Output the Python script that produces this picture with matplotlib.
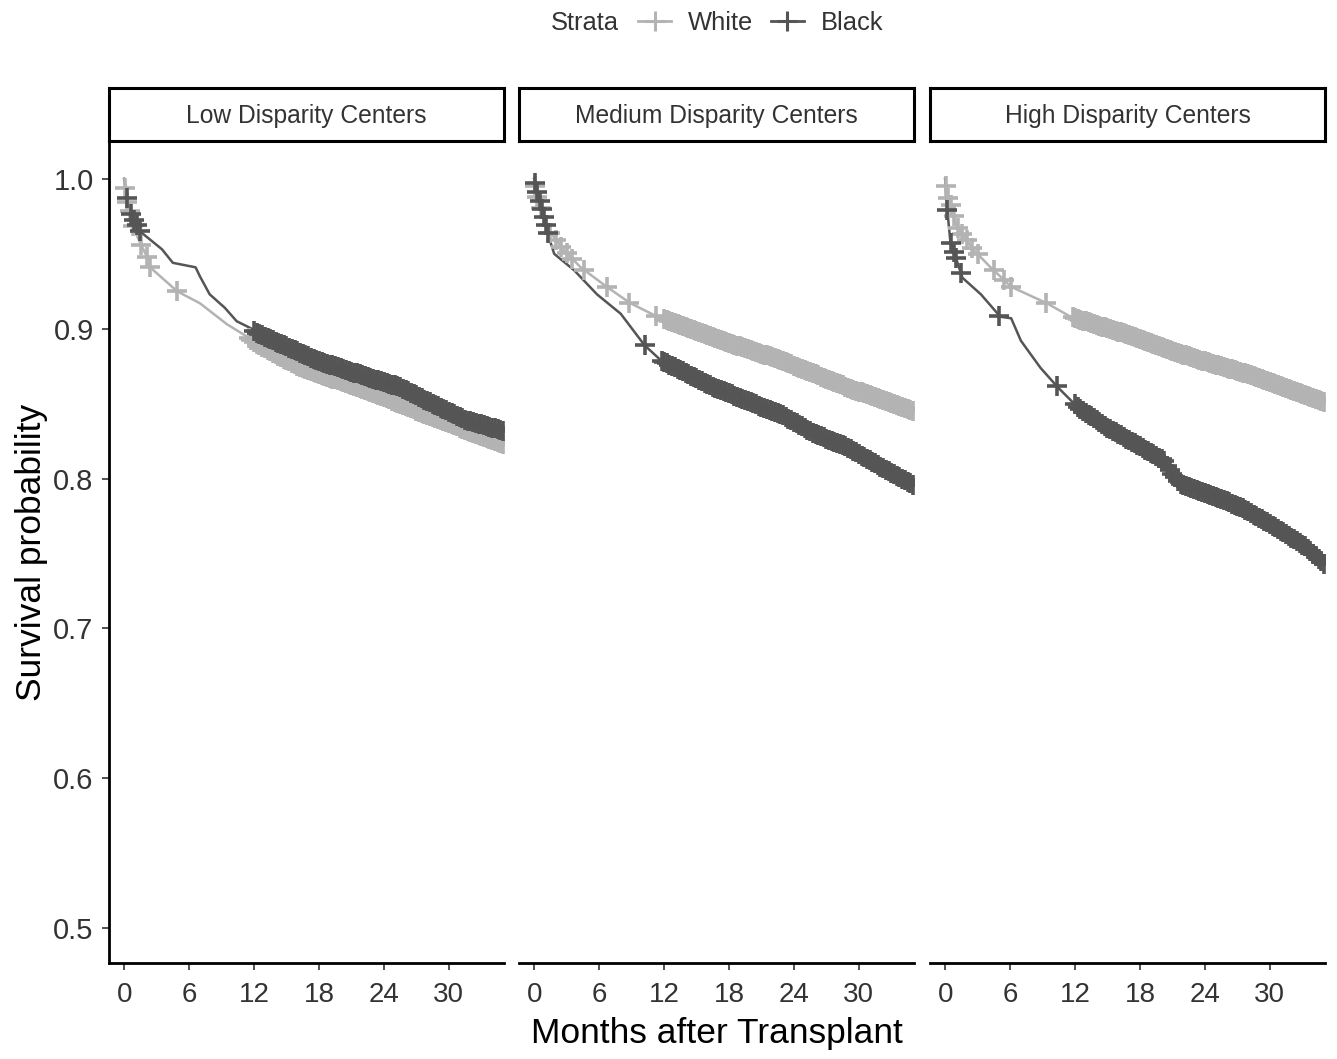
import numpy as np
import matplotlib
matplotlib.use("Agg")
import matplotlib.pyplot as plt
from matplotlib.lines import Line2D

plt.rcParams['font.family'] = ['Liberation Sans', 'DejaVu Sans']

panel_titles = ["Low Disparity Centers", "Medium Disparity Centers", "High Disparity Centers"]
strata = ["White", "Black"]
strata_colors = {"White": "#b3b3b3", "Black": "#555555"}

# survival curves (months, probability)
low_white_t = [0, 0.2, 0.85, 2.1, 2.4, 4.9, 7.0, 9.5, 11.3, 12.0, 16.3, 22.4, 28.5, 35.0]
low_white_s = [1.0, 0.988, 0.967, 0.948, 0.941, 0.925, 0.917, 0.903, 0.895, 0.891, 0.874, 0.859, 0.841, 0.823]
low_black_t = [0, 0.55, 1.63, 3.5, 4.5, 6.6, 7.0, 7.9, 9.3, 10.4, 11.8, 12.3, 17.8, 22.4, 25.5, 28.5, 31.6, 35.0]
low_black_s = [1.0, 0.977, 0.964, 0.953, 0.944, 0.941, 0.935, 0.923, 0.914, 0.905, 0.900, 0.897, 0.879, 0.868, 0.861, 0.850, 0.839, 0.832]

med_white_t = [0, 0.2, 1.2, 2.8, 4.3, 6.7, 8.9, 11.4, 16.6, 22.8, 28.9, 35.0]
med_white_s = [1.0, 0.99, 0.967, 0.952, 0.941, 0.928, 0.917, 0.908, 0.894, 0.879, 0.861, 0.845]
med_black_t = [0, 0.5, 1.0, 1.5, 1.85, 3.7, 5.8, 8.0, 10.2, 11.7, 16.6, 21.0, 22.8, 25.9, 28.9, 32.0, 35.0]
med_black_s = [1.0, 0.985, 0.972, 0.958, 0.950, 0.939, 0.923, 0.910, 0.889, 0.879, 0.861, 0.848, 0.843, 0.830, 0.821, 0.808, 0.796]

high_white_t = [0, 0.2, 1.1, 2.7, 4.2, 6.1, 9.4, 11.6, 16.5, 22.7, 28.8, 35.0]
high_white_s = [1.0, 0.99, 0.968, 0.952, 0.941, 0.928, 0.917, 0.908, 0.897, 0.881, 0.868, 0.851]
high_black_t = [0, 0.2, 0.5, 1.1, 1.6, 3.3, 5.1, 6.1, 7.0, 8.8, 10.4, 12.2, 15.0, 18.1, 20.2, 21.0, 21.8, 24.2, 27.3, 30.4, 33.4, 35.0]
high_black_s = [1.0, 0.979, 0.957, 0.945, 0.934, 0.923, 0.908, 0.907, 0.892, 0.874, 0.861, 0.848, 0.834, 0.821, 0.812, 0.803, 0.796, 0.790, 0.781, 0.768, 0.754, 0.743]

# censoring times (months)
low_white_cens = [0.1, 0.3, 0.5, 0.8, 1.6, 2.1, 2.4, 4.9, 11.5, 11.75]
low_black_cens = [0.3, 0.6, 0.9, 1.2, 1.5]
med_white_cens = [0.1, 0.3, 0.6, 1.5, 2.0, 2.5, 3.0, 3.5, 4.6, 6.7, 8.8, 11.3]
med_black_cens = [0.1, 0.3, 0.5, 0.7, 0.9, 1.1, 1.3, 10.2, 11.8]
high_white_cens = [0.1, 0.3, 0.5, 0.8, 1.2, 1.6, 2.0, 2.5, 3.0, 4.5, 5.4, 6.1, 9.3, 11.8]
high_black_cens = [0.2, 0.5, 0.8, 1.0, 1.45, 5.0, 10.3]
dense_cens = [12.0, 12.25, 12.5, 12.75, 13.0, 13.25, 13.5, 13.75, 14.0, 14.25, 14.5, 14.75,
              15.0, 15.25, 15.5, 15.75, 16.0, 16.25, 16.5, 16.75, 17.0, 17.25, 17.5, 17.75,
              18.0, 18.25, 18.5, 18.75, 19.0, 19.25, 19.5, 19.75, 20.0, 20.25, 20.5, 20.75,
              21.0, 21.25, 21.5, 21.75, 22.0, 22.25, 22.5, 22.75, 23.0, 23.25, 23.5, 23.75,
              24.0, 24.25, 24.5, 24.75, 25.0, 25.25, 25.5, 25.75, 26.0, 26.25, 26.5, 26.75,
              27.0, 27.25, 27.5, 27.75, 28.0, 28.25, 28.5, 28.75, 29.0, 29.25, 29.5, 29.75,
              30.0, 30.25, 30.5, 30.75, 31.0, 31.25, 31.5, 31.75, 32.0, 32.25, 32.5, 32.75,
              33.0, 33.25, 33.5, 33.75, 34.0, 34.25, 34.5, 34.75, 35.0]

curves = [
    {"White": (low_white_t, low_white_s, low_white_cens), "Black": (low_black_t, low_black_s, low_black_cens)},
    {"White": (med_white_t, med_white_s, med_white_cens), "Black": (med_black_t, med_black_s, med_black_cens)},
    {"White": (high_white_t, high_white_s, high_white_cens), "Black": (high_black_t, high_black_s, high_black_cens)},
]

x_ticks = [0, 6, 12, 18, 24, 30]
y_ticks = [0.5, 0.6, 0.7, 0.8, 0.9, 1.0]

W, H = 1337, 1059
fig = plt.figure(figsize=(W / 100, H / 100), dpi=100)

lefts = [109, 519, 930]
pw = 395
ax_bottom = 963
ax_top = 141
strip_top = 88

for i, left in enumerate(lefts):
    ax = fig.add_axes([left / W, 1 - ax_bottom / H, pw / W, (ax_bottom - ax_top) / H])
    for name in strata:
        t, s, cens = curves[i][name]
        col = strata_colors[name]
        ax.plot(t, s, color=col, lw=1.8, zorder=2)
        c = np.array(cens + dense_cens)
        ax.plot(c, np.interp(c, t, s), ls='none', marker='+', ms=14, mew=2.6,
                color=col, zorder=3)
    ax.set_xlim(-1.4, 35.1)
    ax.set_ylim(0.4767, 1.0253)
    ax.set_xticks(x_ticks)
    ax.set_yticks(y_ticks)
    ax.tick_params(axis='x', labelsize=20, colors='#333333', length=5, width=1.2, pad=9)
    ax.tick_params(axis='y', labelsize=21, colors='#333333', length=5, width=1.2, pad=6)
    ax.spines['top'].set_visible(False)
    ax.spines['right'].set_visible(False)
    ax.spines['bottom'].set_linewidth(2)
    ax.spines['left'].set_linewidth(2)
    ax.yaxis.set_major_formatter(matplotlib.ticker.FormatStrFormatter('%.1f'))
    if i > 0:
        ax.spines['left'].set_visible(False)
        ax.tick_params(axis='y', left=False, labelleft=False)
    else:
        ax.set_ylabel("Survival probability", fontsize=25.5, labelpad=4)
    if i == 1:
        ax.set_xlabel("Months after Transplant", fontsize=25.5, labelpad=6)

    sax = fig.add_axes([left / W, 1 - ax_top / H, pw / W, (ax_top - strip_top) / H])
    sax.set_xticks([])
    sax.set_yticks([])
    for sp in sax.spines.values():
        sp.set_linewidth(2.2)
        sp.set_color('black')
    sax.text(0.5, 0.47, panel_titles[i], ha='center', va='center', fontsize=17.7, color='#333333')

fig.text(551 / W, 1 - 23 / H, "Strata", fontsize=18.4, color='#333333', va='center', ha='left')
handles = [Line2D([0], [0], color=strata_colors[n], lw=2, marker='+', ms=14, mew=2.2) for n in strata]
fig.legend(handles, strata, loc='center left', bbox_to_anchor=(615 / W, 1 - 23 / H), ncol=2,
           frameon=False, fontsize=18.4, handlelength=1.3, handletextpad=0.67, columnspacing=0.67,
           labelcolor='#333333')

fig.savefig("out.png", dpi=100)
